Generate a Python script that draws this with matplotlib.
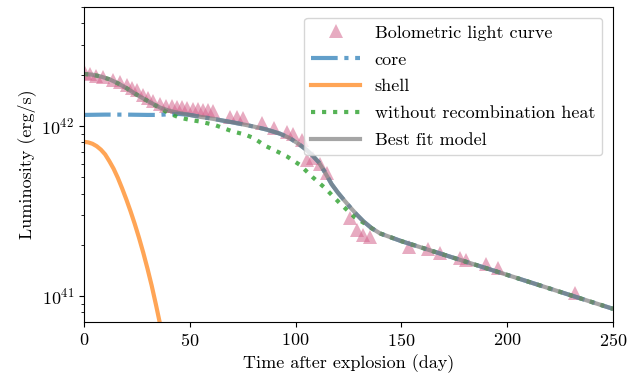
import numpy as np
import matplotlib
matplotlib.use("Agg")
import matplotlib.pyplot as plt

plt.rcParams["font.family"] = "serif"
plt.rcParams["font.serif"] = ["cmr10"]
plt.rcParams["mathtext.fontset"] = "cm"
plt.rcParams["axes.formatter.use_mathtext"] = True
plt.rcParams["axes.unicode_minus"] = False

# bolometric light curve (day, erg/s)
obs_day = [0.5, 2.8, 5.7, 9.0, 13.7, 17.0, 20.3, 22.7, 25.0, 27.9, 30.2, 32.6,
           35.9, 38.8, 41.6, 44.0, 46.3, 48.7, 51.5, 53.9, 56.2, 58.6, 61.0,
           69.0, 72.3, 75.1, 84.0, 90.0, 96.0, 99.0, 103.0, 105.4, 108.0,
           111.5, 114.8, 125.7, 129.0, 131.9, 135.2, 153.6, 162.6, 168.2,
           177.7, 180.5, 190.0, 195.7, 232.0]
obs_lum = [2.05e42, 2.02e42, 1.97e42, 1.95e42, 1.86e42, 1.81e42, 1.74e42,
           1.67e42, 1.63e42, 1.52e42, 1.46e42, 1.40e42, 1.35e42, 1.31e42,
           1.31e42, 1.29e42, 1.29e42, 1.28e42, 1.26e42, 1.26e42, 1.24e42,
           1.24e42, 1.22e42, 1.13e42, 1.13e42, 1.11e42, 1.04e42, 9.7e41,
           9.2e41, 9.0e41, 8.3e41, 6.3e41, 6.5e41, 6.0e41, 5.3e41, 2.88e41,
           2.44e41, 2.29e41, 2.22e41, 1.94e41, 1.89e41, 1.79e41, 1.67e41,
           1.63e41, 1.54e41, 1.46e41, 1.04e41]

# model curves
best_day = [0, 4, 8, 12, 16, 20, 24, 28, 32, 36, 40, 45, 50, 55, 61, 70, 77,
            82, 86.5, 92.6, 97, 101, 105, 108, 111, 114, 117, 120, 123, 126,
            129, 132, 136, 140, 150, 200, 250]
best_lum = [2.02e42, 2.0e42, 1.95e42, 1.88e42, 1.78e42, 1.67e42, 1.55e42,
            1.45e42, 1.36e42, 1.28e42, 1.23e42, 1.19e42, 1.16e42, 1.13e42,
            1.10e42, 1.05e42, 1.01e42, 9.8e41, 9.5e41, 9.0e41, 8.5e41,
            7.9e41, 7.25e41, 6.7e41, 6.1e41, 5.3e41, 4.55e41, 4.05e41,
            3.65e41, 3.3e41, 3.0e41, 2.75e41, 2.5e41, 2.33e41, 2.1e41,
            1.33e41, 8.4e40]

core_day = [0, 10, 20, 30, 35, 40, 45, 50, 55, 61, 70, 77, 82, 86.5, 92.6,
            97, 101, 105, 108, 111, 114, 117, 120, 123, 126, 129, 132, 136,
            140, 150, 200, 250]
core_lum = [1.16e42, 1.165e42, 1.165e42, 1.16e42, 1.16e42, 1.17e42,
            1.175e42, 1.16e42, 1.13e42, 1.10e42, 1.05e42, 1.01e42, 9.8e41,
            9.5e41, 9.0e41, 8.5e41, 7.9e41, 7.25e41, 6.7e41, 6.1e41, 5.3e41,
            4.55e41, 4.05e41, 3.65e41, 3.3e41, 3.0e41, 2.75e41, 2.5e41,
            2.33e41, 2.1e41, 1.33e41, 8.4e40]

shell_day = [0, 2, 4, 6, 8, 10, 12, 14, 16, 18, 20, 22, 24, 26, 28, 30, 32,
             34, 36]
shell_lum = [8.06e41, 8.0e41, 7.85e41, 7.6e41, 7.25e41, 6.8e41, 6.2e41,
             5.6e41, 4.95e41, 4.3e41, 3.7e41, 3.15e41, 2.65e41, 2.2e41,
             1.8e41, 1.45e41, 1.15e41, 8.9e40, 6.8e40]

norec_day = [0, 4, 8, 12, 16, 20, 24, 28, 32, 36, 40, 45, 50, 55, 62, 70, 76,
             80, 86, 92, 96, 102, 108, 114, 121, 128, 132, 136, 140, 150,
             200, 250]
norec_lum = [2.02e42, 2.0e42, 1.95e42, 1.88e42, 1.78e42, 1.67e42, 1.55e42,
             1.45e42, 1.36e42, 1.27e42, 1.19e42, 1.12e42, 1.085e42, 1.06e42,
             1.01e42, 9.3e41, 8.9e41, 8.5e41, 7.6e41, 7.0e41, 6.6e41, 5.9e41,
             5.0e41, 4.3e41, 3.5e41, 2.9e41, 2.7e41, 2.5e41, 2.33e41, 2.1e41,
             1.33e41, 8.4e40]

fig = plt.figure(figsize=(6.29, 3.79), dpi=100)
ax = fig.add_axes([0.1335, 0.1504, 0.8411, 0.8311])

ax.plot(obs_day, obs_lum, "^", color="#d5668f", alpha=0.55, markersize=10.5,
        markeredgewidth=0, label="Bolometric light curve")
ax.plot(core_day, core_lum, "-.", color="C0", alpha=0.7, lw=3, label="core")
ax.plot(shell_day, shell_lum, "-", color="C1", alpha=0.7, lw=3, label="shell")
ax.plot(norec_day, norec_lum, ":", color="C2", alpha=0.8, lw=3,
        label="without recombination heat")
ax.plot(best_day, best_lum, "-", color="C7", alpha=0.7, lw=3,
        label="Best fit model")

ax.set_yscale("log")
ax.set_xlim(0, 250)
ax.set_ylim(7.03e40, 5e42)
ax.set_xlabel("Time after explosion (day)", fontsize=13)
ax.set_ylabel("Luminosity (erg/s)", fontsize=13)
ax.tick_params(labelsize=13)
ax.legend(loc="upper right", fontsize=13, handlelength=2.7,
          labelspacing=0.62, borderaxespad=0.6)

fig.savefig("out.png", dpi=100)
